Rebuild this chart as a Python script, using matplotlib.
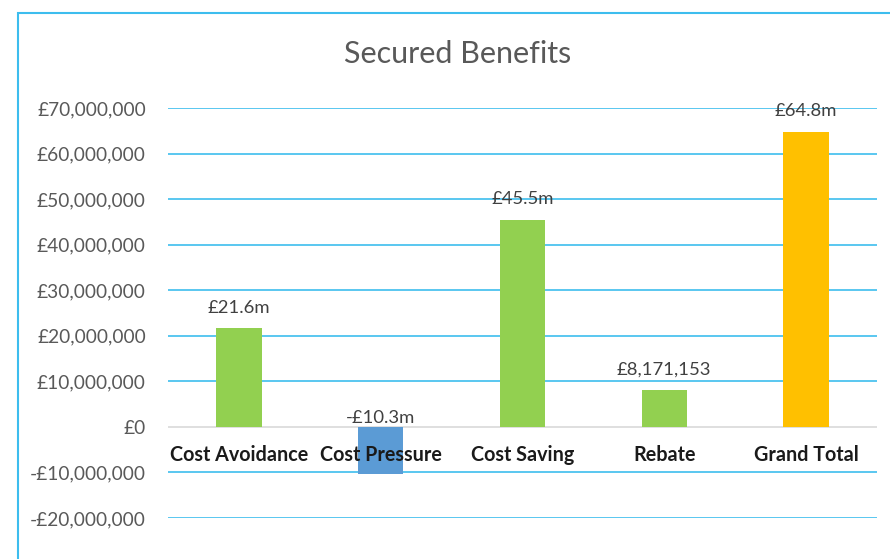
import matplotlib.pyplot as plt
from matplotlib.patches import Rectangle
from matplotlib.ticker import FuncFormatter

# data
categories = ["Cost Avoidance", "Cost Pressure", "Cost Saving", "Rebate", "Grand Total"]
values = [21.6e6, -10.3e6, 45.5e6, 8171153, 64.8e6]
value_labels = ["£21.6m", "-£10.3m", "£45.5m", "£8,171,153", "£64.8m"]
bar_colors = ["#92D050", "#5B9BD5", "#92D050", "#92D050", "#FFC000"]
y_ticks = [-20e6, -10e6, 0, 10e6, 20e6, 30e6, 40e6, 50e6, 60e6, 70e6]

plt.rcParams['font.family'] = ['Lato', 'DejaVu Sans']
grid_blue = "#3DBDEE"

W, H = 890, 559
fig = plt.figure(figsize=(W / 100, H / 100), dpi=100)
ax = fig.add_axes([168 / W, 41 / H, (877 - 168) / W, (518 - 108) / H])

# outer chart border (runs off the right and bottom edge)
fig.patches.append(Rectangle((17.5 / W, -0.1), 1.2, 1.1 - 12.5 / H, transform=fig.transFigure,
                             fill=False, edgecolor=grid_blue, linewidth=1.5))

x = range(len(categories))
ax.bar(x, values, width=0.32, color=bar_colors, zorder=3)

ax.set_ylim(-20e6, 70e6)
ax.set_xlim(-0.5, len(categories) - 0.5)
ax.set_yticks(y_ticks)
ax.yaxis.set_major_formatter(FuncFormatter(
    lambda v, p: "£0" if v == 0 else ("-" if v < 0 else "") + "£{:,.0f}".format(abs(v))))
ax.tick_params(axis='y', length=0, pad=16, labelsize=13.8, labelcolor="#595959")
ax.set_xticks([])

for t in y_ticks:
    if t != 0:
        ax.axhline(t, color=grid_blue, linewidth=1.2, zorder=1)
ax.axhline(0, color="#D9D9D9", linewidth=1.2, zorder=2)

for s in ax.spines.values():
    s.set_visible(False)

# category names sit just under the zero line
for i, name in enumerate(categories):
    ax.annotate(name, (i, 0), xytext=(0, -20), textcoords='offset points',
                ha='center', va='center', fontsize=14.2, fontweight='bold',
                color="#1a1a1a", zorder=4)

# value labels above bar top (the negative one just above zero)
for i, (v, lab) in enumerate(zip(values, value_labels)):
    off = 11 if v > 0 else 3
    ax.annotate(lab, (i, max(v, 0)), xytext=(0, off), textcoords='offset points',
                ha='center', va='baseline', fontsize=13.3, color="#404040", zorder=4)

fig.text(458 / W, 1 - 54 / H, "Secured Benefits", ha='center', va='center',
         fontsize=22, color="#595959")

fig.savefig("out.png", dpi=100)
